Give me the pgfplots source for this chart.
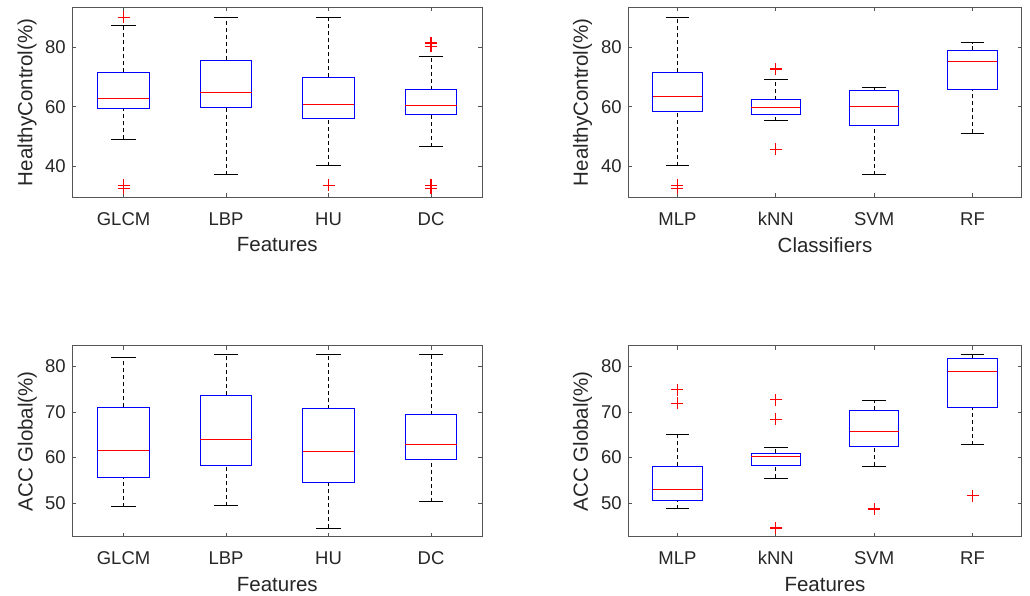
\documentclass[border=0pt]{standalone}
\usepackage{pgfplots}
\pgfplotsset{compat=1.18}
\usepackage{fontspec}
\setmainfont{Liberation Sans}
\definecolor{txt}{HTML}{262626}
\definecolor{axc}{HTML}{555555}
\definecolor{mblue}{HTML}{0000FF}
\definecolor{mred}{HTML}{FF0000}
\pgfplotsset{
  mybox/.style={
    scale only axis,
    anchor=south west,
    xmin=0.5, xmax=4.5,
    xtick={1,2,3,4},
    tick align=inside,
    major tick length=4pt,
    axis line style={axc, line width=0.9pt},
    every tick/.style={axc, line width=0.9pt},
    /pgf/number format/assume math mode=true,
    tick label style={font=\fontsize{18.5}{20}\selectfont, text=txt},
    label style={font=\fontsize{20.5}{22}\selectfont, text=txt},
    xlabel style={at={(axis description cs:0.5,-0.25)}, anchor=center},
    xticklabel style={anchor=north, inner sep=0pt, text height=13pt, text depth=4pt, yshift=-14.5pt},
    yticklabel style={xshift=-3pt},
  },
  wdash/.style={black, line width=0.9pt, dash pattern=on 4pt off 3pt},
  wcap/.style={black, line width=1pt},
  oline/.style={draw=mred, color=mred, line width=1.3pt, mark=none, solid},
}
% #1 position, #2 lower whisker, #3 lower quartile, #4 median, #5 upper quartile, #6 upper whisker
\newcommand{\bp}[6]{%
  \addplot[wdash, x filter/.expression={x+#1}] coordinates {(0,#5) (0,#6)};
  \addplot[wdash, x filter/.expression={x+#1}] coordinates {(0,#2) (0,#3)};
  \addplot[wcap, x filter/.expression={x+#1}] coordinates {(-0.12,#6) (0.12,#6)};
  \addplot[wcap, x filter/.expression={x+#1}] coordinates {(-0.12,#2) (0.12,#2)};
  \addplot[mblue, line width=1pt, line cap=rect, x filter/.expression={x+#1}]
    coordinates {(-0.25,#3) (0.25,#3) (0.25,#5) (-0.25,#5) (-0.25,#3)};
  \addplot[mred, line width=1pt, x filter/.expression={x+#1}] coordinates {(-0.25,#4) (0.25,#4)};
}
% outlier '+': #1 position, #2 value (half sizes \odx, \ody set per axis)
\newcommand{\ol}[2]{%
  \addplot[oline, x filter/.expression={x+#1}, y filter/.expression={y+#2}]
    coordinates {(-\odx,0) (\odx,0)};
  \addplot[oline, x filter/.expression={x+#1}, y filter/.expression={y+#2}]
    coordinates {(0,-\ody) (0,\ody)};
}
\begin{document}
\begin{tikzpicture}
\path[use as bounding box] (0,0) rectangle (1030pt,595pt);

% Top-left
\def\odx{0.0585}\def\ody{2.02}
\begin{axis}[mybox, at={(72.3pt,397.7pt)}, width=410pt, height=190pt,
  ymin=29.5, ymax=93.5, ytick={40,60,80},
  xticklabels={GLCM,LBP,HU,DC},
  xlabel={Features}, ylabel={HealthyControl(\%)},
  ylabel style={at={(axis description cs:-0.110,0.5)}, anchor=center}]
\bp{1}{49.0}{59.55}{62.9}{71.6}{87.4}
\bp{2}{37.1}{59.7}{64.9}{75.7}{90.1}
\bp{3}{40.1}{56.1}{60.8}{69.9}{90.1}
\bp{4}{46.6}{57.3}{60.3}{65.8}{76.9}
\ol{1}{90.1}\ol{1}{33.5}\ol{1}{32.5}
\ol{3}{33.5}
\ol{4}{81.5}\ol{4}{80.3}\ol{4}{33.5}\ol{4}{32.5}
\end{axis}

% Top-right
\def\odx{0.061}\def\ody{2.02}
\begin{axis}[mybox, at={(628.3pt,397.7pt)}, width=393.4pt, height=190pt,
  ymin=29.5, ymax=93.5, ytick={40,60,80},
  xticklabels={MLP,kNN,SVM,RF},
  xlabel={Classifiers}, ylabel={HealthyControl(\%)},
  ylabel style={at={(axis description cs:-0.116,0.5)}, anchor=center}]
\bp{1}{40.1}{58.5}{63.4}{71.7}{90.1}
\bp{2}{55.3}{57.4}{59.8}{62.4}{69.2}
\bp{3}{37.1}{53.7}{60.0}{65.4}{66.4}
\bp{4}{51.0}{65.8}{75.2}{79.0}{81.5}
\ol{1}{33.5}\ol{1}{32.5}
\ol{2}{72.7}\ol{2}{45.7}
\end{axis}

% Bottom-left
\def\odx{0.0585}\def\ody{1.32}
\begin{axis}[mybox, at={(72.3pt,58.3pt)}, width=410pt, height=191pt,
  ymin=42.6, ymax=84.6, ytick={50,60,70,80},
  xticklabels={GLCM,LBP,HU,DC},
  xlabel={Features}, ylabel={ACC Global(\%)},
  ylabel style={at={(axis description cs:-0.110,0.5)}, anchor=center}]
\bp{1}{49.2}{55.6}{61.6}{71.1}{82.05}
\bp{2}{49.4}{58.2}{63.9}{73.7}{82.6}
\bp{3}{44.5}{54.5}{61.4}{70.7}{82.6}
\bp{4}{50.3}{59.5}{62.9}{69.4}{82.6}
\end{axis}

% Bottom-right
\def\odx{0.061}\def\ody{1.32}
\begin{axis}[mybox, at={(628.3pt,58.3pt)}, width=393.4pt, height=191pt,
  ymin=42.6, ymax=84.6, ytick={50,60,70,80},
  xticklabels={MLP,kNN,SVM,RF},
  xlabel={Features}, ylabel={ACC Global(\%)},
  ylabel style={at={(axis description cs:-0.116,0.5)}, anchor=center}]
\bp{1}{48.7}{50.6}{52.9}{58.1}{65.1}
\bp{2}{55.5}{58.2}{60.3}{60.9}{62.2}
\bp{3}{58.1}{62.4}{65.7}{70.4}{72.5}
\bp{4}{62.8}{71.1}{79.0}{81.8}{82.6}
\ol{1}{74.9}\ol{1}{71.9}
\ol{2}{72.7}\ol{2}{68.4}\ol{2}{44.5}
\ol{3}{48.7}
\ol{4}{51.6}
\end{axis}
\end{tikzpicture}
\end{document}
